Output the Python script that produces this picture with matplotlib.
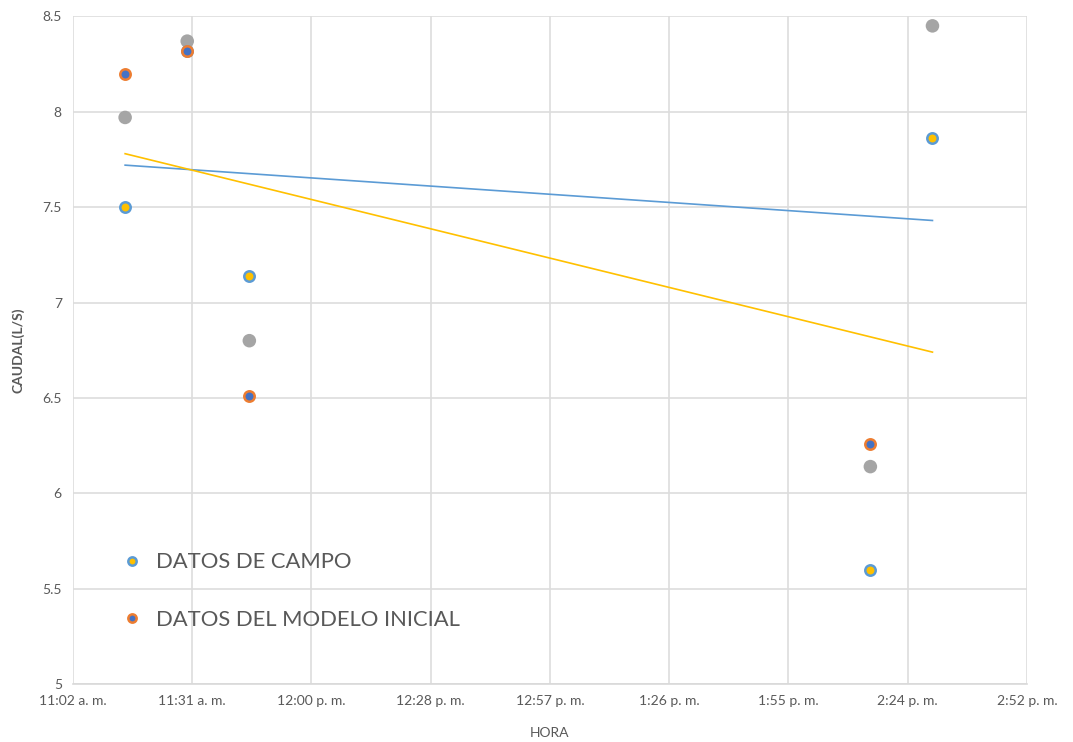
import matplotlib
matplotlib.use("Agg")
import matplotlib.pyplot as plt

plt.rcParams['font.family'] = ['Lato', 'DejaVu Sans']

# horas de medicion (minutos desde medianoche)
horas = [11 * 60 + 15, 11 * 60 + 30, 11 * 60 + 45, 14 * 60 + 15, 14 * 60 + 30]

campo = [7.50, 8.32, 7.14, 5.60, 7.86]
modelo = [8.20, 8.32, 6.51, 6.26]
gris = [7.97, 8.37, 6.80, 6.14, 8.45]

# lineas de tendencia (extremos)
tend_x = [horas[0], horas[-1]]
tend_azul = [7.72, 7.43]
tend_amarilla = [7.78, 6.74]

# eje x: 0.46 a 0.62 dias, cada 0.02
x_ticks = [d * 1440 for d in [0.46, 0.48, 0.50, 0.52, 0.54, 0.56, 0.58, 0.60, 0.62]]
x_labels = ["11:02 a. m.", "11:31 a. m.", "12:00 p. m.", "12:28 p. m.", "12:57 p. m.",
            "1:26 p. m.", "1:55 p. m.", "2:24 p. m.", "2:52 p. m."]
y_ticks = [5, 5.5, 6, 6.5, 7, 7.5, 8, 8.5]
y_labels = ["5", "5.5", "6", "6.5", "7", "7.5", "8", "8.5"]

fig = plt.figure(figsize=(10.73, 7.42), dpi=100)
ax = fig.add_axes([0.068, 0.078, 0.889, 0.9])

ax.plot(tend_x, tend_azul, color="#5B9BD5", linewidth=1.2, zorder=2)
ax.plot(tend_x, tend_amarilla, color="#FFC000", linewidth=1.2, zorder=2)

ax.scatter(horas, gris, s=95, color="#A5A5A5", edgecolors="none", zorder=3)
ax.plot(horas, campo, linestyle="none", marker="o", markersize=7.5,
        markerfacecolor="#FFC000", markeredgecolor="#5B9BD5", markeredgewidth=1.8,
        zorder=4, label="DATOS DE CAMPO")
ax.plot(horas[:4], modelo, linestyle="none", marker="o", markersize=7.5,
        markerfacecolor="#4472C4", markeredgecolor="#ED7D31", markeredgewidth=1.8,
        zorder=5, label="DATOS DEL MODELO INICIAL")

ax.set_xlim(x_ticks[0], x_ticks[-1])
ax.set_ylim(5, 8.5)
ax.set_xticks(x_ticks)
ax.set_xticklabels(x_labels)
ax.set_yticks(y_ticks)
ax.set_yticklabels(y_labels)
ax.tick_params(length=0, labelsize=10, labelcolor="#595959", pad=8)

ax.grid(True, color="#DDDDDD", linewidth=1.2)
ax.set_axisbelow(True)
for s in ["top", "right", "left"]:
    ax.spines[s].set_visible(False)
ax.spines["bottom"].set_color("#D9D9D9")
ax.spines["bottom"].set_linewidth(1.2)

ax.set_xlabel("HORA", fontsize=10, color="#595959", labelpad=14)
ax.set_ylabel("CAUDAL(L/S)", fontsize=10, color="#595959", fontweight="bold", labelpad=13)

ax.legend(loc="lower left", bbox_to_anchor=(0.018, 0.052), frameon=False,
          fontsize=15.8, labelcolor="#595959", handletextpad=0.1, labelspacing=1.7,
          markerscale=0.8)

fig.savefig("out.png", dpi=100)
